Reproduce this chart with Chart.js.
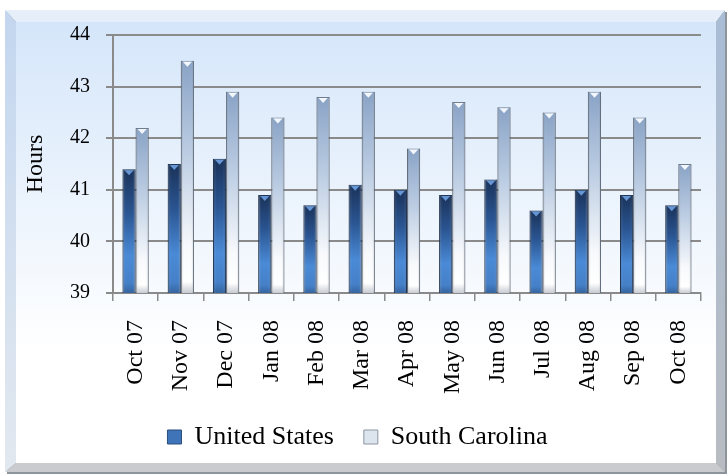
<!DOCTYPE html>
<html>
<head>
<meta charset="utf-8">
<script src="https://cdn.jsdelivr.net/npm/chart.js@4/dist/chart.umd.min.js"></script>
<style>
  html,body{margin:0;padding:0;background:#fff;}
  #wrap{width:727px;height:475px;position:relative;}
</style>
</head>
<body>
<div id="wrap"><canvas id="c"></canvas></div>
<script>
// ── Data ──
const months=['Oct 07','Nov 07','Dec 07','Jan 08','Feb 08','Mar 08','Apr 08','May 08','Jun 08','Jul 08','Aug 08','Sep 08','Oct 08'];
const usHours=[41.4,41.5,41.6,40.9,40.7,41.1,41.0,40.9,41.2,40.6,41.0,40.9,40.7];
const scHours=[42.2,43.5,42.9,42.4,42.8,42.9,41.8,42.7,42.6,42.5,42.9,42.4,41.5];
const seriesNames=['United States','South Carolina'];

const FONT='"Liberation Serif", "DejaVu Serif", serif';

// ── Gradients for the glassy bars ──
function barGrad(stops,fallback){
  return function(ctx){
    const ch=ctx.chart, area=ch.chartArea;
    if(!area||ctx.raw==null)return fallback;
    const top=ch.scales.y.getPixelForValue(ctx.raw);
    const g=ch.ctx.createLinearGradient(0,top,0,area.bottom);
    for(const s of stops)g.addColorStop(s[0],s[1]);
    return g;
  };
}
const usFill=barGrad([[0,'#1a3259'],[0.35,'#2a5592'],[0.7,'#4a8ad6'],[0.92,'#4580c8'],[1,'#35649f']],'#3f74b9');
const scFill=barGrad([[0,'#89a3c6'],[0.4,'#bccde3'],[0.8,'#f7f9fc'],[0.95,'#ffffff'],[1,'#c8ccd2']],'#d5dde8');

// ── Beveled frame behind the chart ──
const framePlugin={
  id:'frame',
  beforeDraw(chart){
    const c=chart.ctx;
    const L=5,T=10,R=725,B=472, iL=16,iT=22,iR=716,iB=463;
    c.save();
    c.fillStyle='#fff';c.fillRect(0,0,chart.width,chart.height);
    c.fillStyle='#8e949c';
    c.fillRect(L+2,T+2,R-L,B-T);
    // top bevel
    c.fillStyle='#e6eff9';
    c.beginPath();c.moveTo(L,T);c.lineTo(R,T);c.lineTo(iR,iT);c.lineTo(iL,iT);c.closePath();c.fill();
    // left bevel
    let g=c.createLinearGradient(0,T,0,B);g.addColorStop(0,'#c3d6ef');g.addColorStop(1,'#e2e8ef');
    c.fillStyle=g;
    c.beginPath();c.moveTo(L,T);c.lineTo(iL,iT);c.lineTo(iL,iB);c.lineTo(L,B);c.closePath();c.fill();
    // right bevel
    g=c.createLinearGradient(0,T,0,B);g.addColorStop(0,'#a9bdd6');g.addColorStop(1,'#b8bcc2');
    c.fillStyle=g;
    c.beginPath();c.moveTo(R,T);c.lineTo(R,B);c.lineTo(iR,iB);c.lineTo(iR,iT);c.closePath();c.fill();
    // bottom bevel
    c.fillStyle='#c9cbce';
    c.beginPath();c.moveTo(L,B);c.lineTo(iL,iB);c.lineTo(iR,iB);c.lineTo(R,B);c.closePath();c.fill();
    // inner face
    g=c.createLinearGradient(0,iT,0,iB);
    g.addColorStop(0,'#d5e6fa');g.addColorStop(0.45,'#eef5fd');g.addColorStop(0.75,'#ffffff');g.addColorStop(1,'#ffffff');
    c.fillStyle=g;c.fillRect(iL,iT,iR-iL,iB-iT);
    c.restore();
  }
};

// ── Small triangle caps + side shading on each bar ──
const capPlugin={
  id:'caps',
  afterDatasetsDraw(chart){
    const c=chart.ctx, bottom=chart.chartArea.bottom;
    chart.data.datasets.forEach((ds,di)=>{
      chart.getDatasetMeta(di).data.forEach(bar=>{
        const w=bar.width, x0=bar.x-w/2, y=bar.y, h=bottom-bar.y;
        c.save();
        let g=c.createLinearGradient(x0,0,x0+w,0);
        g.addColorStop(0,'rgba(0,0,0,0.22)');g.addColorStop(0.25,'rgba(255,255,255,0)');
        g.addColorStop(0.75,'rgba(255,255,255,0)');g.addColorStop(1,'rgba(0,0,0,0.2)');
        c.fillStyle=g;c.fillRect(x0,y,w,h);
        c.fillStyle=di===0?'#6696d4':'#f3f7fc';
        c.beginPath();c.moveTo(x0+2,y+1);c.lineTo(x0+w-2,y+1);c.lineTo(bar.x,y+6);c.closePath();c.fill();
        c.restore();
      });
    });
  }
};

new Chart(document.getElementById('c'),{
  type:'bar',
  data:{labels:months,datasets:[
    {label:seriesNames[0],data:usHours,backgroundColor:usFill,borderColor:'#1e3558',borderWidth:1,borderSkipped:false},
    {label:seriesNames[1],data:scHours,backgroundColor:scFill,borderColor:'#6f7d90',borderWidth:1,borderSkipped:false}
  ]},
  options:{
    responsive:true,maintainAspectRatio:false,animation:false,
    datasets:{bar:{categoryPercentage:0.58,barPercentage:1}},
    layout:{padding:{left:10,right:22,top:35,bottom:15}},
    scales:{
      x:{
        grid:{drawOnChartArea:false,drawTicks:true,tickLength:8,color:'#8a8a8a',lineWidth:1.5},
        border:{color:'#8a8a8a',width:1.5},
        ticks:{color:'#000',font:{family:FONT,size:24},minRotation:90,maxRotation:90,padding:19},
        afterFit(s){s.height=101;}
      },
      y:{
        min:39,max:44,
        grid:{color:'#8a8a8a',lineWidth:2,tickLength:7},
        border:{color:'#8a8a8a',width:2},
        ticks:{stepSize:1,color:'#000',font:{family:FONT,size:20},padding:16},
        title:{display:true,text:'Hours',color:'#000',font:{family:FONT,size:24},padding:{top:11,bottom:0}},
        afterFit(s){s.width=103;}
      }
    },
    plugins:{
      legend:{position:'bottom',labels:{color:'#000',font:{family:FONT,size:26},boxWidth:14,boxHeight:14,padding:30,
        generateLabels(chart){
          return [
            {text:seriesNames[0],fillStyle:'#3f74b9',strokeStyle:'#2a4d7c',lineWidth:1,datasetIndex:0},
            {text:seriesNames[1],fillStyle:'#dce4ee',strokeStyle:'#8d96a2',lineWidth:1,datasetIndex:1}
          ];
        }}},
      tooltip:{enabled:false}
    }
  },
  plugins:[framePlugin,capPlugin]
});
</script>
</body>
</html>
